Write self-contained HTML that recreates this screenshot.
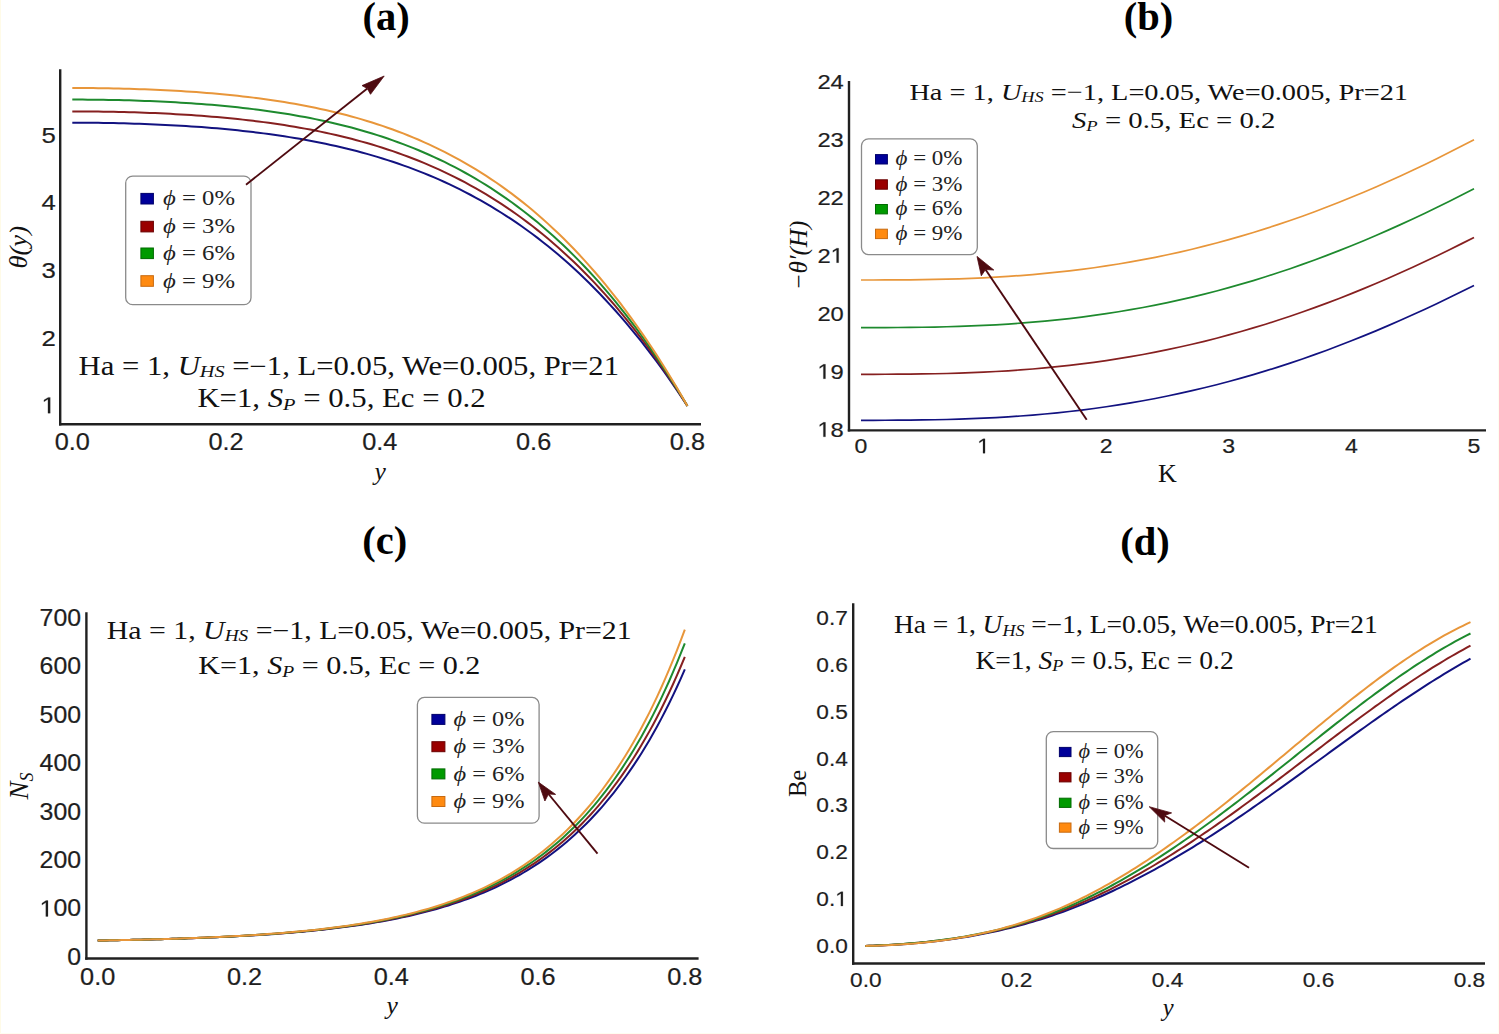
<!DOCTYPE html>
<html><head><meta charset="utf-8"><title>Figure</title>
<style>html,body{margin:0;padding:0;background:#fff;width:1499px;height:1034px;overflow:hidden}svg{display:block}</style>
</head><body>
<svg width="1499" height="1034" viewBox="0 0 1499 1034">
<rect x="0" y="0" width="1499" height="1034" fill="#fff"/>
<rect x="0" y="0" width="1" height="1034" fill="#fffbe8"/>
<rect x="0" y="1033" width="1499" height="1" fill="#fffdf0"/>
<rect x="1498" y="0" width="1" height="1034" fill="#fffdf0"/>
<text x="386.20" y="29.60" font-family="'Liberation Serif', serif" font-size="40.5" text-anchor="middle" font-style="normal" font-weight="bold" fill="#000" >(a)</text>
<text x="1148.40" y="30.40" font-family="'Liberation Serif', serif" font-size="40.5" text-anchor="middle" font-style="normal" font-weight="bold" fill="#000" >(b)</text>
<text x="384.70" y="553.80" font-family="'Liberation Serif', serif" font-size="40.5" text-anchor="middle" font-style="normal" font-weight="bold" fill="#000" >(c)</text>
<text x="1144.90" y="554.80" font-family="'Liberation Serif', serif" font-size="40.5" text-anchor="middle" font-style="normal" font-weight="bold" fill="#000" >(d)</text>
<line x1="60.20" y1="69.30" x2="60.20" y2="425.40" stroke="#202020" stroke-width="2.4"/>
<line x1="59.00" y1="424.20" x2="701.00" y2="424.20" stroke="#202020" stroke-width="2.4"/>
<path d="M515,0 L515,1237 L197,1010 L197,1180 L530,1409 L696,1409 L696,0 Z" transform="translate(41.47,413.20) scale(0.01258,-0.01123)" fill="#1e1e1e" stroke="#1e1e1e" stroke-width="0.2" vector-effect="non-scaling-stroke"/>
<text transform="translate(55.80,413.20) scale(1.12,1)" font-family="'Liberation Sans', sans-serif" font-size="23.0" text-anchor="end" font-style="normal" font-weight="normal" fill="#1e1e1e" stroke="#1e1e1e" stroke-width="0.2" style="font-kerning:none">&#x2007;</text>
<text transform="translate(55.80,345.60) scale(1.12,1)" font-family="'Liberation Sans', sans-serif" font-size="23.0" text-anchor="end" font-style="normal" font-weight="normal" fill="#1e1e1e" stroke="#1e1e1e" stroke-width="0.2" style="font-kerning:none">2</text>
<text transform="translate(55.80,278.00) scale(1.12,1)" font-family="'Liberation Sans', sans-serif" font-size="23.0" text-anchor="end" font-style="normal" font-weight="normal" fill="#1e1e1e" stroke="#1e1e1e" stroke-width="0.2" style="font-kerning:none">3</text>
<text transform="translate(55.80,210.40) scale(1.12,1)" font-family="'Liberation Sans', sans-serif" font-size="23.0" text-anchor="end" font-style="normal" font-weight="normal" fill="#1e1e1e" stroke="#1e1e1e" stroke-width="0.2" style="font-kerning:none">4</text>
<text transform="translate(55.80,142.80) scale(1.12,1)" font-family="'Liberation Sans', sans-serif" font-size="23.0" text-anchor="end" font-style="normal" font-weight="normal" fill="#1e1e1e" stroke="#1e1e1e" stroke-width="0.2" style="font-kerning:none">5</text>
<text transform="translate(72.30,449.80) scale(1.1,1)" font-family="'Liberation Sans', sans-serif" font-size="23.0" text-anchor="middle" font-style="normal" font-weight="normal" fill="#1e1e1e" stroke="#1e1e1e" stroke-width="0.2" style="font-kerning:none">0.0</text>
<text transform="translate(226.08,449.80) scale(1.1,1)" font-family="'Liberation Sans', sans-serif" font-size="23.0" text-anchor="middle" font-style="normal" font-weight="normal" fill="#1e1e1e" stroke="#1e1e1e" stroke-width="0.2" style="font-kerning:none">0.2</text>
<text transform="translate(379.86,449.80) scale(1.1,1)" font-family="'Liberation Sans', sans-serif" font-size="23.0" text-anchor="middle" font-style="normal" font-weight="normal" fill="#1e1e1e" stroke="#1e1e1e" stroke-width="0.2" style="font-kerning:none">0.4</text>
<text transform="translate(533.64,449.80) scale(1.1,1)" font-family="'Liberation Sans', sans-serif" font-size="23.0" text-anchor="middle" font-style="normal" font-weight="normal" fill="#1e1e1e" stroke="#1e1e1e" stroke-width="0.2" style="font-kerning:none">0.6</text>
<text transform="translate(687.42,449.80) scale(1.1,1)" font-family="'Liberation Sans', sans-serif" font-size="23.0" text-anchor="middle" font-style="normal" font-weight="normal" fill="#1e1e1e" stroke="#1e1e1e" stroke-width="0.2" style="font-kerning:none">0.8</text>
<text x="380.20" y="480.00" font-family="'Liberation Serif', serif" font-size="25.5" text-anchor="middle" font-style="italic" font-weight="normal" fill="#111" >y</text>
<text transform="translate(27.0,247.3) rotate(-90)" x="0" y="0" font-family="'Liberation Serif', serif" font-size="26" font-style="italic" text-anchor="middle" fill="#111" textLength="42.6" lengthAdjust="spacingAndGlyphs">&#x3B8;(y)</text>
<polyline points="72.30,122.69 77.47,122.69 82.64,122.71 87.81,122.75 92.98,122.79 98.15,122.85 103.31,122.92 108.48,123.01 113.65,123.11 118.82,123.22 123.99,123.35 129.16,123.49 134.33,123.64 139.50,123.81 144.67,124.00 149.84,124.20 155.01,124.42 160.17,124.65 165.34,124.90 170.51,125.16 175.68,125.44 180.85,125.74 186.02,126.06 191.19,126.39 196.36,126.75 201.53,127.12 206.70,127.52 211.87,127.94 217.03,128.37 222.20,128.83 227.37,129.31 232.54,129.82 237.71,130.35 242.88,130.90 248.05,131.48 253.22,132.08 258.39,132.72 263.56,133.38 268.72,134.07 273.89,134.78 279.06,135.53 284.23,136.31 289.40,137.13 294.57,137.97 299.74,138.85 304.91,139.77 310.08,140.72 315.25,141.70 320.42,142.73 325.58,143.80 330.75,144.90 335.92,146.05 341.09,147.24 346.26,148.48 351.43,149.76 356.60,151.08 361.77,152.46 366.94,153.88 372.11,155.35 377.28,156.88 382.44,158.46 387.61,160.09 392.78,161.77 397.95,163.52 403.12,165.32 408.29,167.18 413.46,169.11 418.63,171.09 423.80,173.14 428.97,175.26 434.14,177.45 439.30,179.70 444.47,182.02 449.64,184.42 454.81,186.89 459.98,189.44 465.15,192.06 470.32,194.76 475.49,197.55 480.66,200.41 485.83,203.36 491.00,206.40 496.16,209.52 501.33,212.74 506.50,216.05 511.67,219.45 516.84,222.94 522.01,226.54 527.18,230.23 532.35,234.02 537.52,237.92 542.69,241.93 547.85,246.04 553.02,250.26 558.19,254.60 563.36,259.04 568.53,263.61 573.70,268.29 578.87,273.09 584.04,278.02 589.21,283.07 594.38,288.25 599.55,293.56 604.71,299.00 609.88,304.58 615.05,310.29 620.22,316.14 625.39,322.13 630.56,328.27 635.73,334.55 640.90,340.98 646.07,347.57 651.24,354.31 656.41,361.20 661.57,368.25 666.74,375.47 671.91,382.85 677.08,390.40 682.25,398.11 687.42,406.00" fill="none" stroke="#121280" stroke-width="2.0" stroke-linejoin="round" stroke-linecap="butt"/>
<polyline points="72.30,111.40 77.47,111.41 82.64,111.43 87.81,111.46 92.98,111.50 98.15,111.56 103.31,111.63 108.48,111.72 113.65,111.82 118.82,111.93 123.99,112.05 129.16,112.19 134.33,112.35 139.50,112.52 144.67,112.70 149.84,112.90 155.01,113.12 160.17,113.35 165.34,113.60 170.51,113.86 175.68,114.14 180.85,114.44 186.02,114.76 191.19,115.09 196.36,115.45 201.53,115.83 206.70,116.22 211.87,116.64 217.03,117.08 222.20,117.54 227.37,118.02 232.54,118.53 237.71,119.07 242.88,119.62 248.05,120.21 253.22,120.82 258.39,121.46 263.56,122.13 268.72,122.83 273.89,123.55 279.06,124.31 284.23,125.10 289.40,125.93 294.57,126.79 299.74,127.68 304.91,128.62 310.08,129.58 315.25,130.59 320.42,131.64 325.58,132.73 330.75,133.86 335.92,135.03 341.09,136.25 346.26,137.51 351.43,138.82 356.60,140.18 361.77,141.59 366.94,143.05 372.11,144.57 377.28,146.13 382.44,147.75 387.61,149.43 392.78,151.17 397.95,152.96 403.12,154.82 408.29,156.74 413.46,158.73 418.63,160.78 423.80,162.89 428.97,165.08 434.14,167.34 439.30,169.67 444.47,172.07 449.64,174.55 454.81,177.11 459.98,179.75 465.15,182.47 470.32,185.27 475.49,188.16 480.66,191.13 485.83,194.19 491.00,197.35 496.16,200.59 501.33,203.93 506.50,207.37 511.67,210.91 516.84,214.55 522.01,218.29 527.18,222.13 532.35,226.08 537.52,230.14 542.69,234.32 547.85,238.60 553.02,243.01 558.19,247.53 563.36,252.17 568.53,256.93 573.70,261.82 578.87,266.83 584.04,271.98 589.21,277.26 594.38,282.67 599.55,288.22 604.71,293.91 609.88,299.74 615.05,305.71 620.22,311.83 625.39,318.11 630.56,324.53 635.73,331.11 640.90,337.84 646.07,344.74 651.24,351.80 656.41,359.02 661.57,366.42 666.74,373.98 671.91,381.72 677.08,389.63 682.25,397.72 687.42,406.00" fill="none" stroke="#862020" stroke-width="2.0" stroke-linejoin="round" stroke-linecap="butt"/>
<polyline points="72.30,99.57 77.47,99.58 82.64,99.60 87.81,99.63 92.98,99.67 98.15,99.73 103.31,99.80 108.48,99.89 113.65,99.99 118.82,100.10 123.99,100.23 129.16,100.37 134.33,100.53 139.50,100.70 144.67,100.88 149.84,101.08 155.01,101.30 160.17,101.53 165.34,101.78 170.51,102.05 175.68,102.34 180.85,102.64 186.02,102.96 191.19,103.30 196.36,103.66 201.53,104.04 206.70,104.45 211.87,104.87 217.03,105.32 222.20,105.79 227.37,106.28 232.54,106.80 237.71,107.34 242.88,107.91 248.05,108.50 253.22,109.13 258.39,109.78 263.56,110.46 268.72,111.17 273.89,111.92 279.06,112.69 284.23,113.50 289.40,114.35 294.57,115.23 299.74,116.15 304.91,117.10 310.08,118.09 315.25,119.13 320.42,120.20 325.58,121.32 330.75,122.48 335.92,123.69 341.09,124.94 346.26,126.24 351.43,127.59 356.60,128.99 361.77,130.45 366.94,131.95 372.11,133.51 377.28,135.13 382.44,136.80 387.61,138.54 392.78,140.33 397.95,142.19 403.12,144.11 408.29,146.09 413.46,148.14 418.63,150.27 423.80,152.46 428.97,154.72 434.14,157.06 439.30,159.48 444.47,161.97 449.64,164.54 454.81,167.19 459.98,169.93 465.15,172.75 470.32,175.66 475.49,178.66 480.66,181.75 485.83,184.93 491.00,188.21 496.16,191.58 501.33,195.05 506.50,198.63 511.67,202.31 516.84,206.09 522.01,209.99 527.18,213.99 532.35,218.10 537.52,222.33 542.69,226.68 547.85,231.14 553.02,235.73 558.19,240.44 563.36,245.28 568.53,250.25 573.70,255.35 578.87,260.58 584.04,265.94 589.21,271.45 594.38,277.10 599.55,282.89 604.71,288.83 609.88,294.92 615.05,301.16 620.22,307.55 625.39,314.10 630.56,320.81 635.73,327.69 640.90,334.73 646.07,341.93 651.24,349.31 656.41,356.87 661.57,364.60 666.74,372.51 671.91,380.60 677.08,388.88 682.25,397.34 687.42,406.00" fill="none" stroke="#1e8a2e" stroke-width="2.0" stroke-linejoin="round" stroke-linecap="butt"/>
<polyline points="72.30,88.01 77.47,88.02 82.64,88.04 87.81,88.07 92.98,88.11 98.15,88.17 103.31,88.24 108.48,88.33 113.65,88.43 118.82,88.54 123.99,88.67 129.16,88.81 134.33,88.96 139.50,89.13 144.67,89.32 149.84,89.52 155.01,89.74 160.17,89.97 165.34,90.22 170.51,90.49 175.68,90.78 180.85,91.08 186.02,91.40 191.19,91.75 196.36,92.11 201.53,92.49 206.70,92.90 211.87,93.32 217.03,93.77 222.20,94.25 227.37,94.74 232.54,95.27 237.71,95.82 242.88,96.39 248.05,96.99 253.22,97.63 258.39,98.29 263.56,98.98 268.72,99.70 273.89,100.46 279.06,101.25 284.23,102.07 289.40,102.93 294.57,103.83 299.74,104.76 304.91,105.74 310.08,106.75 315.25,107.80 320.42,108.90 325.58,110.05 330.75,111.23 335.92,112.47 341.09,113.75 346.26,115.08 351.43,116.47 356.60,117.90 361.77,119.39 366.94,120.94 372.11,122.54 377.28,124.20 382.44,125.92 387.61,127.71 392.78,129.55 397.95,131.46 403.12,133.44 408.29,135.49 413.46,137.60 418.63,139.79 423.80,142.05 428.97,144.39 434.14,146.81 439.30,149.30 444.47,151.88 449.64,154.54 454.81,157.28 459.98,160.11 465.15,163.03 470.32,166.04 475.49,169.15 480.66,172.35 485.83,175.64 491.00,179.04 496.16,182.54 501.33,186.14 506.50,189.85 511.67,193.67 516.84,197.60 522.01,201.64 527.18,205.80 532.35,210.07 537.52,214.47 542.69,218.99 547.85,223.63 553.02,228.40 558.19,233.30 563.36,238.34 568.53,243.50 573.70,248.81 578.87,254.26 584.04,259.85 589.21,265.58 594.38,271.47 599.55,277.50 604.71,283.69 609.88,290.04 615.05,296.54 620.22,303.21 625.39,310.04 630.56,317.05 635.73,324.22 640.90,331.56 646.07,339.09 651.24,346.79 656.41,354.67 661.57,362.75 666.74,371.01 671.91,379.46 677.08,388.11 682.25,396.95 687.42,406.00" fill="none" stroke="#e8963a" stroke-width="2.0" stroke-linejoin="round" stroke-linecap="butt"/>
<rect x="125.70" y="176.10" width="125.30" height="128.60" rx="7" ry="7" fill="#fff" stroke="#8a8a8a" stroke-width="1.3"/>
<rect x="140.90" y="193.40" width="12.50" height="10.60" fill="#00009a" stroke="#00006a" stroke-width="1"/>
<text x="163.00" y="205.35" font-family="'Liberation Serif', serif" font-size="21.8" fill="#222" textLength="72" lengthAdjust="spacingAndGlyphs"><tspan font-style="italic">&#x3D5;</tspan> = 0%</text>
<rect x="140.90" y="221.30" width="12.50" height="10.60" fill="#9a0000" stroke="#6a0000" stroke-width="1"/>
<text x="163.00" y="233.25" font-family="'Liberation Serif', serif" font-size="21.8" fill="#222" textLength="72" lengthAdjust="spacingAndGlyphs"><tspan font-style="italic">&#x3D5;</tspan> = 3%</text>
<rect x="140.90" y="248.00" width="12.50" height="10.60" fill="#009a00" stroke="#006a00" stroke-width="1"/>
<text x="163.00" y="259.95" font-family="'Liberation Serif', serif" font-size="21.8" fill="#222" textLength="72" lengthAdjust="spacingAndGlyphs"><tspan font-style="italic">&#x3D5;</tspan> = 6%</text>
<rect x="140.90" y="275.70" width="12.50" height="10.60" fill="#ff8a10" stroke="#c86a10" stroke-width="1"/>
<text x="163.00" y="287.65" font-family="'Liberation Serif', serif" font-size="21.8" fill="#222" textLength="72" lengthAdjust="spacingAndGlyphs"><tspan font-style="italic">&#x3D5;</tspan> = 9%</text>
<line x1="246.00" y1="184.70" x2="367.30" y2="88.60" stroke="#4e0a10" stroke-width="1.9"/>
<polygon points="384.20,76.00 362.00,85.60 367.30,88.60 370.50,94.30" fill="#4e0a10" stroke="#4e0a10" stroke-width="0.8" stroke-linejoin="round"/>
<text x="78.60" y="375.00" font-family="'Liberation Serif', serif" font-size="26.5" fill="#111" textLength="540.40" lengthAdjust="spacingAndGlyphs">Ha = 1, <tspan font-style="italic">U</tspan><tspan font-style="italic" font-size="17.5" dy="2.4">HS</tspan><tspan dy="-2.4"> =&#x2212;1, L=0.05, We=0.005, Pr=21</tspan></text>
<text x="197.40" y="407.20" font-family="'Liberation Serif', serif" font-size="26.5" fill="#111" textLength="288.30" lengthAdjust="spacingAndGlyphs">K=1, <tspan font-style="italic">S</tspan><tspan font-style="italic" font-size="17.5" dy="2.4">P</tspan><tspan dy="-2.4"> = 0.5, Ec = 0.2</tspan></text>
<line x1="849.00" y1="80.90" x2="849.00" y2="431.60" stroke="#202020" stroke-width="2.4"/>
<line x1="847.80" y1="430.40" x2="1486.00" y2="430.40" stroke="#202020" stroke-width="2.4"/>
<path d="M515,0 L515,1237 L197,1010 L197,1180 L530,1409 L696,1409 L696,0 Z" transform="translate(817.41,436.80) scale(0.01159,-0.01025)" fill="#1e1e1e" stroke="#1e1e1e" stroke-width="0.2" vector-effect="non-scaling-stroke"/>
<text transform="translate(843.80,436.80) scale(1.13,1)" font-family="'Liberation Sans', sans-serif" font-size="21.0" text-anchor="end" font-style="normal" font-weight="normal" fill="#1e1e1e" stroke="#1e1e1e" stroke-width="0.2" style="font-kerning:none">&#x2007;8</text>
<path d="M515,0 L515,1237 L197,1010 L197,1180 L530,1409 L696,1409 L696,0 Z" transform="translate(817.41,378.75) scale(0.01159,-0.01025)" fill="#1e1e1e" stroke="#1e1e1e" stroke-width="0.2" vector-effect="non-scaling-stroke"/>
<text transform="translate(843.80,378.75) scale(1.13,1)" font-family="'Liberation Sans', sans-serif" font-size="21.0" text-anchor="end" font-style="normal" font-weight="normal" fill="#1e1e1e" stroke="#1e1e1e" stroke-width="0.2" style="font-kerning:none">&#x2007;9</text>
<text transform="translate(843.80,320.70) scale(1.13,1)" font-family="'Liberation Sans', sans-serif" font-size="21.0" text-anchor="end" font-style="normal" font-weight="normal" fill="#1e1e1e" stroke="#1e1e1e" stroke-width="0.2" style="font-kerning:none">20</text>
<path d="M515,0 L515,1237 L197,1010 L197,1180 L530,1409 L696,1409 L696,0 Z" transform="translate(830.60,262.65) scale(0.01159,-0.01025)" fill="#1e1e1e" stroke="#1e1e1e" stroke-width="0.2" vector-effect="non-scaling-stroke"/>
<text transform="translate(843.80,262.65) scale(1.13,1)" font-family="'Liberation Sans', sans-serif" font-size="21.0" text-anchor="end" font-style="normal" font-weight="normal" fill="#1e1e1e" stroke="#1e1e1e" stroke-width="0.2" style="font-kerning:none">2&#x2007;</text>
<text transform="translate(843.80,204.60) scale(1.13,1)" font-family="'Liberation Sans', sans-serif" font-size="21.0" text-anchor="end" font-style="normal" font-weight="normal" fill="#1e1e1e" stroke="#1e1e1e" stroke-width="0.2" style="font-kerning:none">22</text>
<text transform="translate(843.80,146.55) scale(1.13,1)" font-family="'Liberation Sans', sans-serif" font-size="21.0" text-anchor="end" font-style="normal" font-weight="normal" fill="#1e1e1e" stroke="#1e1e1e" stroke-width="0.2" style="font-kerning:none">23</text>
<text transform="translate(843.80,88.50) scale(1.13,1)" font-family="'Liberation Sans', sans-serif" font-size="21.0" text-anchor="end" font-style="normal" font-weight="normal" fill="#1e1e1e" stroke="#1e1e1e" stroke-width="0.2" style="font-kerning:none">24</text>
<text transform="translate(861.00,453.30) scale(1.1,1)" font-family="'Liberation Sans', sans-serif" font-size="21.0" text-anchor="middle" font-style="normal" font-weight="normal" fill="#1e1e1e" stroke="#1e1e1e" stroke-width="0.2" style="font-kerning:none">0</text>
<path d="M515,0 L515,1237 L197,1010 L197,1180 L530,1409 L696,1409 L696,0 Z" transform="translate(977.18,453.30) scale(0.01128,-0.01025)" fill="#1e1e1e" stroke="#1e1e1e" stroke-width="0.2" vector-effect="non-scaling-stroke"/>
<text transform="translate(983.60,453.30) scale(1.1,1)" font-family="'Liberation Sans', sans-serif" font-size="21.0" text-anchor="middle" font-style="normal" font-weight="normal" fill="#1e1e1e" stroke="#1e1e1e" stroke-width="0.2" style="font-kerning:none">&#x2007;</text>
<text transform="translate(1106.20,453.30) scale(1.1,1)" font-family="'Liberation Sans', sans-serif" font-size="21.0" text-anchor="middle" font-style="normal" font-weight="normal" fill="#1e1e1e" stroke="#1e1e1e" stroke-width="0.2" style="font-kerning:none">2</text>
<text transform="translate(1228.80,453.30) scale(1.1,1)" font-family="'Liberation Sans', sans-serif" font-size="21.0" text-anchor="middle" font-style="normal" font-weight="normal" fill="#1e1e1e" stroke="#1e1e1e" stroke-width="0.2" style="font-kerning:none">3</text>
<text transform="translate(1351.40,453.30) scale(1.1,1)" font-family="'Liberation Sans', sans-serif" font-size="21.0" text-anchor="middle" font-style="normal" font-weight="normal" fill="#1e1e1e" stroke="#1e1e1e" stroke-width="0.2" style="font-kerning:none">4</text>
<text transform="translate(1474.00,453.30) scale(1.1,1)" font-family="'Liberation Sans', sans-serif" font-size="21.0" text-anchor="middle" font-style="normal" font-weight="normal" fill="#1e1e1e" stroke="#1e1e1e" stroke-width="0.2" style="font-kerning:none">5</text>
<text x="1167.50" y="482.00" font-family="'Liberation Serif', serif" font-size="26" text-anchor="middle" font-style="normal" font-weight="normal" fill="#111" >K</text>
<text transform="translate(806.5,255.5) rotate(-90)" x="0" y="0" font-family="'Liberation Serif', serif" font-size="25" font-style="italic" text-anchor="middle" fill="#111" textLength="69.7" lengthAdjust="spacingAndGlyphs">&#x2212;&#x3B8;&#x2032;(H)</text>
<polyline points="861.00,420.30 873.26,420.30 885.52,420.27 897.78,420.22 910.04,420.12 922.30,419.97 934.56,419.76 946.82,419.49 959.08,419.14 971.34,418.70 983.60,418.18 995.86,417.56 1008.12,416.84 1020.38,416.01 1032.64,415.06 1044.90,414.00 1057.16,412.82 1069.42,411.51 1081.68,410.06 1093.94,408.49 1106.20,406.77 1118.46,404.92 1130.72,402.92 1142.98,400.77 1155.24,398.48 1167.50,396.04 1179.76,393.44 1192.02,390.69 1204.28,387.79 1216.54,384.73 1228.80,381.51 1241.06,378.14 1253.32,374.61 1265.58,370.93 1277.84,367.09 1290.10,363.09 1302.36,358.94 1314.62,354.63 1326.88,350.18 1339.14,345.57 1351.40,340.81 1363.66,335.90 1375.92,330.84 1388.18,325.64 1400.44,320.30 1412.70,314.82 1424.96,309.20 1437.22,303.45 1449.48,297.56 1461.74,291.54 1474.00,285.40" fill="none" stroke="#121280" stroke-width="1.7" stroke-linejoin="round" stroke-linecap="butt"/>
<polyline points="861.00,374.30 873.26,374.30 885.52,374.27 897.78,374.22 910.04,374.12 922.30,373.97 934.56,373.76 946.82,373.48 959.08,373.12 971.34,372.68 983.60,372.15 995.86,371.52 1008.12,370.78 1020.38,369.94 1032.64,368.98 1044.90,367.91 1057.16,366.71 1069.42,365.38 1081.68,363.91 1093.94,362.31 1106.20,360.57 1118.46,358.69 1130.72,356.66 1142.98,354.48 1155.24,352.16 1167.50,349.68 1179.76,347.04 1192.02,344.25 1204.28,341.30 1216.54,338.20 1228.80,334.94 1241.06,331.51 1253.32,327.93 1265.58,324.20 1277.84,320.30 1290.10,316.24 1302.36,312.03 1314.62,307.66 1326.88,303.14 1339.14,298.46 1351.40,293.63 1363.66,288.65 1375.92,283.52 1388.18,278.24 1400.44,272.82 1412.70,267.26 1424.96,261.55 1437.22,255.71 1449.48,249.74 1461.74,243.63 1474.00,237.40" fill="none" stroke="#862020" stroke-width="1.7" stroke-linejoin="round" stroke-linecap="butt"/>
<polyline points="861.00,327.60 873.26,327.60 885.52,327.57 897.78,327.51 910.04,327.42 922.30,327.26 934.56,327.05 946.82,326.76 959.08,326.40 971.34,325.96 983.60,325.42 995.86,324.78 1008.12,324.03 1020.38,323.18 1032.64,322.21 1044.90,321.11 1057.16,319.89 1069.42,318.55 1081.68,317.06 1093.94,315.44 1106.20,313.67 1118.46,311.76 1130.72,309.70 1142.98,307.49 1155.24,305.13 1167.50,302.62 1179.76,299.94 1192.02,297.11 1204.28,294.12 1216.54,290.97 1228.80,287.66 1241.06,284.19 1253.32,280.56 1265.58,276.76 1277.84,272.81 1290.10,268.69 1302.36,264.42 1314.62,259.99 1326.88,255.40 1339.14,250.65 1351.40,245.75 1363.66,240.70 1375.92,235.49 1388.18,230.14 1400.44,224.64 1412.70,218.99 1424.96,213.21 1437.22,207.28 1449.48,201.22 1461.74,195.03 1474.00,188.70" fill="none" stroke="#1e8a2e" stroke-width="1.7" stroke-linejoin="round" stroke-linecap="butt"/>
<polyline points="861.00,280.00 873.26,280.00 885.52,279.97 897.78,279.91 910.04,279.81 922.30,279.66 934.56,279.44 946.82,279.16 959.08,278.79 971.34,278.34 983.60,277.79 995.86,277.15 1008.12,276.40 1020.38,275.53 1032.64,274.55 1044.90,273.45 1057.16,272.22 1069.42,270.85 1081.68,269.35 1093.94,267.72 1106.20,265.93 1118.46,264.00 1130.72,261.92 1142.98,259.69 1155.24,257.31 1167.50,254.76 1179.76,252.06 1192.02,249.21 1204.28,246.18 1216.54,243.00 1228.80,239.66 1241.06,236.15 1253.32,232.48 1265.58,228.65 1277.84,224.66 1290.10,220.50 1302.36,216.18 1314.62,211.70 1326.88,207.07 1339.14,202.27 1351.40,197.32 1363.66,192.22 1375.92,186.96 1388.18,181.55 1400.44,176.00 1412.70,170.30 1424.96,164.45 1437.22,158.47 1449.48,152.35 1461.74,146.09 1474.00,139.70" fill="none" stroke="#e8963a" stroke-width="1.7" stroke-linejoin="round" stroke-linecap="butt"/>
<rect x="861.50" y="138.80" width="115.80" height="115.80" rx="7" ry="7" fill="#fff" stroke="#8a8a8a" stroke-width="1.3"/>
<rect x="875.50" y="154.60" width="11.90" height="9.40" fill="#00009a" stroke="#00006a" stroke-width="1"/>
<text x="895.50" y="165.40" font-family="'Liberation Serif', serif" font-size="20" fill="#222" textLength="67" lengthAdjust="spacingAndGlyphs"><tspan font-style="italic">&#x3D5;</tspan> = 0%</text>
<rect x="875.50" y="179.80" width="11.90" height="9.40" fill="#9a0000" stroke="#6a0000" stroke-width="1"/>
<text x="895.50" y="190.60" font-family="'Liberation Serif', serif" font-size="20" fill="#222" textLength="67" lengthAdjust="spacingAndGlyphs"><tspan font-style="italic">&#x3D5;</tspan> = 3%</text>
<rect x="875.50" y="204.50" width="11.90" height="9.40" fill="#009a00" stroke="#006a00" stroke-width="1"/>
<text x="895.50" y="215.30" font-family="'Liberation Serif', serif" font-size="20" fill="#222" textLength="67" lengthAdjust="spacingAndGlyphs"><tspan font-style="italic">&#x3D5;</tspan> = 6%</text>
<rect x="875.50" y="229.20" width="11.90" height="9.40" fill="#ff8a10" stroke="#c86a10" stroke-width="1"/>
<text x="895.50" y="240.00" font-family="'Liberation Serif', serif" font-size="20" fill="#222" textLength="67" lengthAdjust="spacingAndGlyphs"><tspan font-style="italic">&#x3D5;</tspan> = 9%</text>
<line x1="1086.70" y1="419.80" x2="985.50" y2="269.50" stroke="#4e0a10" stroke-width="1.9"/>
<polygon points="977.00,256.40 993.80,270.00 985.50,269.50 981.30,275.80" fill="#4e0a10" stroke="#4e0a10" stroke-width="0.8" stroke-linejoin="round"/>
<text x="909.4" y="100" font-family="'Liberation Serif', serif" font-size="24" fill="#111" textLength="498.6" lengthAdjust="spacingAndGlyphs">Ha = 1, <tspan font-style="italic">U</tspan><tspan font-style="italic" font-size="15.5" dy="2.2">HS</tspan><tspan dy="-2.2"> =&#x2212;1, L=0.05, We=0.005, Pr=21</tspan></text>
<text x="1072" y="128.3" font-family="'Liberation Serif', serif" font-size="24" fill="#111" textLength="203.4" lengthAdjust="spacingAndGlyphs"><tspan font-style="italic">S</tspan><tspan font-style="italic" font-size="15.5" dy="2.2">P</tspan><tspan dy="-2.2"> = 0.5, Ec = 0.2</tspan></text>
<line x1="86.40" y1="612.20" x2="86.40" y2="959.70" stroke="#202020" stroke-width="2.4"/>
<line x1="85.20" y1="958.50" x2="698.60" y2="958.50" stroke="#202020" stroke-width="2.4"/>
<text transform="translate(81.00,964.90) scale(1.08,1)" font-family="'Liberation Sans', sans-serif" font-size="23.0" text-anchor="end" font-style="normal" font-weight="normal" fill="#1e1e1e" stroke="#1e1e1e" stroke-width="0.2" style="font-kerning:none">0</text>
<path d="M515,0 L515,1237 L197,1010 L197,1180 L530,1409 L696,1409 L696,0 Z" transform="translate(39.56,916.44) scale(0.01213,-0.01123)" fill="#1e1e1e" stroke="#1e1e1e" stroke-width="0.2" vector-effect="non-scaling-stroke"/>
<text transform="translate(81.00,916.44) scale(1.08,1)" font-family="'Liberation Sans', sans-serif" font-size="23.0" text-anchor="end" font-style="normal" font-weight="normal" fill="#1e1e1e" stroke="#1e1e1e" stroke-width="0.2" style="font-kerning:none">&#x2007;00</text>
<text transform="translate(81.00,867.98) scale(1.08,1)" font-family="'Liberation Sans', sans-serif" font-size="23.0" text-anchor="end" font-style="normal" font-weight="normal" fill="#1e1e1e" stroke="#1e1e1e" stroke-width="0.2" style="font-kerning:none">200</text>
<text transform="translate(81.00,819.52) scale(1.08,1)" font-family="'Liberation Sans', sans-serif" font-size="23.0" text-anchor="end" font-style="normal" font-weight="normal" fill="#1e1e1e" stroke="#1e1e1e" stroke-width="0.2" style="font-kerning:none">300</text>
<text transform="translate(81.00,771.06) scale(1.08,1)" font-family="'Liberation Sans', sans-serif" font-size="23.0" text-anchor="end" font-style="normal" font-weight="normal" fill="#1e1e1e" stroke="#1e1e1e" stroke-width="0.2" style="font-kerning:none">400</text>
<text transform="translate(81.00,722.60) scale(1.08,1)" font-family="'Liberation Sans', sans-serif" font-size="23.0" text-anchor="end" font-style="normal" font-weight="normal" fill="#1e1e1e" stroke="#1e1e1e" stroke-width="0.2" style="font-kerning:none">500</text>
<text transform="translate(81.00,674.14) scale(1.08,1)" font-family="'Liberation Sans', sans-serif" font-size="23.0" text-anchor="end" font-style="normal" font-weight="normal" fill="#1e1e1e" stroke="#1e1e1e" stroke-width="0.2" style="font-kerning:none">600</text>
<text transform="translate(81.00,625.68) scale(1.08,1)" font-family="'Liberation Sans', sans-serif" font-size="23.0" text-anchor="end" font-style="normal" font-weight="normal" fill="#1e1e1e" stroke="#1e1e1e" stroke-width="0.2" style="font-kerning:none">700</text>
<text transform="translate(97.70,984.60) scale(1.1,1)" font-family="'Liberation Sans', sans-serif" font-size="23.0" text-anchor="middle" font-style="normal" font-weight="normal" fill="#1e1e1e" stroke="#1e1e1e" stroke-width="0.2" style="font-kerning:none">0.0</text>
<text transform="translate(244.48,984.60) scale(1.1,1)" font-family="'Liberation Sans', sans-serif" font-size="23.0" text-anchor="middle" font-style="normal" font-weight="normal" fill="#1e1e1e" stroke="#1e1e1e" stroke-width="0.2" style="font-kerning:none">0.2</text>
<text transform="translate(391.26,984.60) scale(1.1,1)" font-family="'Liberation Sans', sans-serif" font-size="23.0" text-anchor="middle" font-style="normal" font-weight="normal" fill="#1e1e1e" stroke="#1e1e1e" stroke-width="0.2" style="font-kerning:none">0.4</text>
<text transform="translate(538.04,984.60) scale(1.1,1)" font-family="'Liberation Sans', sans-serif" font-size="23.0" text-anchor="middle" font-style="normal" font-weight="normal" fill="#1e1e1e" stroke="#1e1e1e" stroke-width="0.2" style="font-kerning:none">0.6</text>
<text transform="translate(684.82,984.60) scale(1.1,1)" font-family="'Liberation Sans', sans-serif" font-size="23.0" text-anchor="middle" font-style="normal" font-weight="normal" fill="#1e1e1e" stroke="#1e1e1e" stroke-width="0.2" style="font-kerning:none">0.8</text>
<text x="392.20" y="1014.00" font-family="'Liberation Serif', serif" font-size="25.5" text-anchor="middle" font-style="italic" font-weight="normal" fill="#111" >y</text>
<text transform="translate(27.5,786.0) rotate(-90)" x="0" y="0" font-family="'Liberation Serif', serif" font-size="27" font-style="italic" text-anchor="middle" fill="#111">N<tspan font-size="18" dy="5">S</tspan></text>
<polyline points="97.70,940.52 101.64,940.45 105.58,940.39 109.52,940.32 113.46,940.25 117.40,940.17 121.34,940.10 125.28,940.02 129.22,939.93 133.16,939.85 137.10,939.76 141.04,939.67 144.98,939.58 148.93,939.48 152.87,939.38 156.81,939.28 160.75,939.17 164.69,939.06 168.63,938.95 172.57,938.83 176.51,938.71 180.45,938.58 184.39,938.45 188.33,938.32 192.27,938.18 196.21,938.04 200.15,937.89 204.09,937.73 208.03,937.58 211.97,937.41 215.91,937.24 219.85,937.07 223.79,936.88 227.73,936.70 231.67,936.50 235.61,936.30 239.55,936.09 243.49,935.88 247.44,935.66 251.38,935.43 255.32,935.19 259.26,934.95 263.20,934.69 267.14,934.43 271.08,934.16 275.02,933.88 278.96,933.59 282.90,933.29 286.84,932.98 290.78,932.66 294.72,932.33 298.66,931.99 302.60,931.64 306.54,931.27 310.48,930.89 314.42,930.50 318.36,930.10 322.30,929.68 326.24,929.25 330.18,928.80 334.12,928.34 338.06,927.86 342.00,927.37 345.95,926.86 349.89,926.33 353.83,925.79 357.77,925.23 361.71,924.64 365.65,924.04 369.59,923.42 373.53,922.77 377.47,922.11 381.41,921.42 385.35,920.71 389.29,919.97 393.23,919.21 397.17,918.43 401.11,917.61 405.05,916.77 408.99,915.90 412.93,915.01 416.87,914.08 420.81,913.12 424.75,912.12 428.69,911.10 432.63,910.04 436.57,908.94 440.52,907.81 444.46,906.63 448.40,905.42 452.34,904.17 456.28,902.87 460.22,901.53 464.16,900.15 468.10,898.72 472.04,897.24 475.98,895.71 479.92,894.12 483.86,892.49 487.80,890.80 491.74,889.05 495.68,887.24 499.62,885.37 503.56,883.44 507.50,881.44 511.44,879.38 515.38,877.24 519.32,875.03 523.26,872.75 527.20,870.39 531.14,867.95 535.08,865.43 539.03,862.82 542.97,860.12 546.91,857.34 550.85,854.45 554.79,851.47 558.73,848.39 562.67,845.21 566.61,841.92 570.55,838.51 574.49,834.99 578.43,831.36 582.37,827.59 586.31,823.70 590.25,819.68 594.19,815.53 598.13,811.23 602.07,806.79 606.01,802.19 609.95,797.44 613.89,792.53 617.83,787.46 621.77,782.21 625.71,776.78 629.65,771.17 633.59,765.37 637.54,759.37 641.48,753.18 645.42,746.77 649.36,740.14 653.30,733.29 657.24,726.20 661.18,718.88 665.12,711.31 669.06,703.48 673.00,695.39 676.94,687.02 680.88,678.38 684.82,669.43" fill="none" stroke="#121280" stroke-width="2.0" stroke-linejoin="round" stroke-linecap="butt"/>
<polyline points="97.70,940.52 101.64,940.45 105.58,940.38 109.52,940.31 113.46,940.24 117.40,940.17 121.34,940.09 125.28,940.01 129.22,939.93 133.16,939.84 137.10,939.75 141.04,939.66 144.98,939.57 148.93,939.47 152.87,939.37 156.81,939.27 160.75,939.16 164.69,939.05 168.63,938.93 172.57,938.81 176.51,938.69 180.45,938.56 184.39,938.43 188.33,938.29 192.27,938.15 196.21,938.00 200.15,937.85 204.09,937.70 208.03,937.53 211.97,937.37 215.91,937.19 219.85,937.01 223.79,936.83 227.73,936.64 231.67,936.44 235.61,936.24 239.55,936.02 243.49,935.81 247.44,935.58 251.38,935.35 255.32,935.10 259.26,934.85 263.20,934.59 267.14,934.33 271.08,934.05 275.02,933.76 278.96,933.47 282.90,933.16 286.84,932.84 290.78,932.52 294.72,932.18 298.66,931.83 302.60,931.46 306.54,931.09 310.48,930.70 314.42,930.30 318.36,929.89 322.30,929.46 326.24,929.02 330.18,928.56 334.12,928.08 338.06,927.59 342.00,927.09 345.95,926.56 349.89,926.02 353.83,925.46 357.77,924.88 361.71,924.28 365.65,923.66 369.59,923.02 373.53,922.35 377.47,921.67 381.41,920.96 385.35,920.22 389.29,919.46 393.23,918.68 397.17,917.87 401.11,917.03 405.05,916.16 408.99,915.26 412.93,914.33 416.87,913.37 420.81,912.38 424.75,911.35 428.69,910.29 432.63,909.19 436.57,908.06 440.52,906.88 444.46,905.67 448.40,904.41 452.34,903.11 456.28,901.77 460.22,900.38 464.16,898.94 468.10,897.45 472.04,895.92 475.98,894.33 479.92,892.68 483.86,890.98 487.80,889.22 491.74,887.41 495.68,885.53 499.62,883.58 503.56,881.57 507.50,879.49 511.44,877.34 515.38,875.11 519.32,872.81 523.26,870.43 527.20,867.97 531.14,865.43 535.08,862.80 539.03,860.07 542.97,857.26 546.91,854.35 550.85,851.34 554.79,848.22 558.73,845.00 562.67,841.67 566.61,838.23 570.55,834.67 574.49,830.98 578.43,827.18 582.37,823.24 586.31,819.16 590.25,814.95 594.19,810.59 598.13,806.09 602.07,801.43 606.01,796.61 609.95,791.62 613.89,786.47 617.83,781.14 621.77,775.62 625.71,769.92 629.65,764.02 633.59,757.93 637.54,751.62 641.48,745.10 645.42,738.35 649.36,731.38 653.30,724.16 657.24,716.70 661.18,708.99 665.12,701.01 669.06,692.76 673.00,684.22 676.94,675.40 680.88,666.27 684.82,656.83" fill="none" stroke="#862020" stroke-width="2.0" stroke-linejoin="round" stroke-linecap="butt"/>
<polyline points="97.70,940.52 101.64,940.45 105.58,940.38 109.52,940.31 113.46,940.24 117.40,940.16 121.34,940.09 125.28,940.01 129.22,939.92 133.16,939.84 137.10,939.75 141.04,939.65 144.98,939.56 148.93,939.46 152.87,939.36 156.81,939.25 160.75,939.14 164.69,939.03 168.63,938.91 172.57,938.79 176.51,938.66 180.45,938.53 184.39,938.40 188.33,938.26 192.27,938.12 196.21,937.97 200.15,937.81 204.09,937.66 208.03,937.49 211.97,937.32 215.91,937.14 219.85,936.96 223.79,936.77 227.73,936.58 231.67,936.38 235.61,936.17 239.55,935.95 243.49,935.73 247.44,935.50 251.38,935.26 255.32,935.01 259.26,934.76 263.20,934.49 267.14,934.22 271.08,933.93 275.02,933.64 278.96,933.34 282.90,933.02 286.84,932.70 290.78,932.36 294.72,932.02 298.66,931.66 302.60,931.29 306.54,930.90 310.48,930.50 314.42,930.09 318.36,929.67 322.30,929.23 326.24,928.77 330.18,928.30 334.12,927.81 338.06,927.31 342.00,926.79 345.95,926.25 349.89,925.69 353.83,925.11 357.77,924.51 361.71,923.90 365.65,923.26 369.59,922.59 373.53,921.91 377.47,921.20 381.41,920.47 385.35,919.71 389.29,918.93 393.23,918.12 397.17,917.28 401.11,916.41 405.05,915.51 408.99,914.59 412.93,913.63 416.87,912.63 420.81,911.60 424.75,910.54 428.69,909.44 432.63,908.30 436.57,907.12 440.52,905.91 444.46,904.65 448.40,903.34 452.34,901.99 456.28,900.60 460.22,899.16 464.16,897.66 468.10,896.12 472.04,894.52 475.98,892.87 479.92,891.16 483.86,889.39 487.80,887.56 491.74,885.67 495.68,883.71 499.62,881.68 503.56,879.59 507.50,877.42 511.44,875.17 515.38,872.85 519.32,870.45 523.26,867.97 527.20,865.40 531.14,862.74 535.08,859.99 539.03,857.15 542.97,854.21 546.91,851.16 550.85,848.01 554.79,844.76 558.73,841.39 562.67,837.90 566.61,834.29 570.55,830.56 574.49,826.70 578.43,822.71 582.37,818.58 586.31,814.31 590.25,809.89 594.19,805.31 598.13,800.58 602.07,795.69 606.01,790.63 609.95,785.39 613.89,779.97 617.83,774.37 621.77,768.57 625.71,762.57 629.65,756.36 633.59,749.94 637.54,743.30 641.48,736.43 645.42,729.32 649.36,721.97 653.30,714.36 657.24,706.50 661.18,698.36 665.12,689.93 669.06,681.22 673.00,672.21 676.94,662.89 680.88,653.24 684.82,643.26" fill="none" stroke="#1e8a2e" stroke-width="2.0" stroke-linejoin="round" stroke-linecap="butt"/>
<polyline points="97.70,940.52 101.64,940.45 105.58,940.38 109.52,940.31 113.46,940.24 117.40,940.16 121.34,940.08 125.28,940.00 129.22,939.92 133.16,939.83 137.10,939.74 141.04,939.64 144.98,939.55 148.93,939.45 152.87,939.34 156.81,939.24 160.75,939.13 164.69,939.01 168.63,938.89 172.57,938.77 176.51,938.64 180.45,938.51 184.39,938.37 188.33,938.23 192.27,938.09 196.21,937.94 200.15,937.78 204.09,937.62 208.03,937.45 211.97,937.28 215.91,937.10 219.85,936.91 223.79,936.72 227.73,936.52 231.67,936.32 235.61,936.10 239.55,935.88 243.49,935.65 247.44,935.42 251.38,935.17 255.32,934.92 259.26,934.66 263.20,934.39 267.14,934.11 271.08,933.82 275.02,933.52 278.96,933.21 282.90,932.89 286.84,932.56 290.78,932.22 294.72,931.86 298.66,931.49 302.60,931.11 306.54,930.72 310.48,930.31 314.42,929.89 318.36,929.45 322.30,929.00 326.24,928.53 330.18,928.05 334.12,927.55 338.06,927.03 342.00,926.50 345.95,925.94 349.89,925.37 353.83,924.77 357.77,924.16 361.71,923.52 365.65,922.86 369.59,922.18 373.53,921.48 377.47,920.75 381.41,919.99 385.35,919.21 389.29,918.41 393.23,917.57 397.17,916.70 401.11,915.81 405.05,914.88 408.99,913.92 412.93,912.93 416.87,911.90 420.81,910.84 424.75,909.74 428.69,908.60 432.63,907.43 436.57,906.21 440.52,904.95 444.46,903.64 448.40,902.29 452.34,900.90 456.28,899.45 460.22,897.95 464.16,896.41 468.10,894.80 472.04,893.15 475.98,891.43 479.92,889.66 483.86,887.82 487.80,885.92 491.74,883.95 495.68,881.91 499.62,879.81 503.56,877.63 507.50,875.37 511.44,873.04 515.38,870.62 519.32,868.12 523.26,865.54 527.20,862.86 531.14,860.09 535.08,857.22 539.03,854.26 542.97,851.19 546.91,848.01 550.85,844.73 554.79,841.33 558.73,837.81 562.67,834.16 566.61,830.39 570.55,826.50 574.49,822.46 578.43,818.28 582.37,813.96 586.31,809.49 590.25,804.86 594.19,800.07 598.13,795.12 602.07,789.99 606.01,784.68 609.95,779.19 613.89,773.51 617.83,767.63 621.77,761.54 625.71,755.25 629.65,748.73 633.59,741.99 637.54,735.01 641.48,727.79 645.42,720.32 649.36,712.59 653.30,704.59 657.24,696.31 661.18,687.74 665.12,678.87 669.06,669.70 673.00,660.21 676.94,650.38 680.88,640.22 684.82,629.69" fill="none" stroke="#e8963a" stroke-width="2.0" stroke-linejoin="round" stroke-linecap="butt"/>
<rect x="417.40" y="697.40" width="121.70" height="125.80" rx="7" ry="7" fill="#fff" stroke="#8a8a8a" stroke-width="1.3"/>
<rect x="431.90" y="714.40" width="13.00" height="10.00" fill="#00009a" stroke="#00006a" stroke-width="1"/>
<text x="453.50" y="726.05" font-family="'Liberation Serif', serif" font-size="21.8" fill="#222" textLength="71" lengthAdjust="spacingAndGlyphs"><tspan font-style="italic">&#x3D5;</tspan> = 0%</text>
<rect x="431.90" y="741.70" width="13.00" height="10.00" fill="#9a0000" stroke="#6a0000" stroke-width="1"/>
<text x="453.50" y="753.35" font-family="'Liberation Serif', serif" font-size="21.8" fill="#222" textLength="71" lengthAdjust="spacingAndGlyphs"><tspan font-style="italic">&#x3D5;</tspan> = 3%</text>
<rect x="431.90" y="768.90" width="13.00" height="10.00" fill="#009a00" stroke="#006a00" stroke-width="1"/>
<text x="453.50" y="780.55" font-family="'Liberation Serif', serif" font-size="21.8" fill="#222" textLength="71" lengthAdjust="spacingAndGlyphs"><tspan font-style="italic">&#x3D5;</tspan> = 6%</text>
<rect x="431.90" y="796.50" width="13.00" height="10.00" fill="#ff8a10" stroke="#c86a10" stroke-width="1"/>
<text x="453.50" y="808.15" font-family="'Liberation Serif', serif" font-size="21.8" fill="#222" textLength="71" lengthAdjust="spacingAndGlyphs"><tspan font-style="italic">&#x3D5;</tspan> = 9%</text>
<line x1="597.50" y1="853.60" x2="548.50" y2="794.00" stroke="#4e0a10" stroke-width="1.9"/>
<polygon points="538.30,782.10 555.60,794.40 548.50,794.00 544.90,801.00" fill="#4e0a10" stroke="#4e0a10" stroke-width="0.8" stroke-linejoin="round"/>
<text x="106.80" y="639.10" font-family="'Liberation Serif', serif" font-size="25.5" fill="#111" textLength="524.90" lengthAdjust="spacingAndGlyphs">Ha = 1, <tspan font-style="italic">U</tspan><tspan font-style="italic" font-size="16.5" dy="2.3">HS</tspan><tspan dy="-2.3"> =&#x2212;1, L=0.05, We=0.005, Pr=21</tspan></text>
<text x="198.30" y="674.20" font-family="'Liberation Serif', serif" font-size="25.5" fill="#111" textLength="282.10" lengthAdjust="spacingAndGlyphs">K=1, <tspan font-style="italic">S</tspan><tspan font-style="italic" font-size="16.5" dy="2.3">P</tspan><tspan dy="-2.3"> = 0.5, Ec = 0.2</tspan></text>
<line x1="853.20" y1="603.20" x2="853.20" y2="964.70" stroke="#202020" stroke-width="2.4"/>
<line x1="852.00" y1="963.50" x2="1485.00" y2="963.50" stroke="#202020" stroke-width="2.4"/>
<text transform="translate(847.80,952.90) scale(1.08,1)" font-family="'Liberation Sans', sans-serif" font-size="21.0" text-anchor="end" font-style="normal" font-weight="normal" fill="#1e1e1e" stroke="#1e1e1e" stroke-width="0.2" style="font-kerning:none">0.0</text>
<path d="M515,0 L515,1237 L197,1010 L197,1180 L530,1409 L696,1409 L696,0 Z" transform="translate(835.19,906.07) scale(0.01107,-0.01025)" fill="#1e1e1e" stroke="#1e1e1e" stroke-width="0.2" vector-effect="non-scaling-stroke"/>
<text transform="translate(847.80,906.07) scale(1.08,1)" font-family="'Liberation Sans', sans-serif" font-size="21.0" text-anchor="end" font-style="normal" font-weight="normal" fill="#1e1e1e" stroke="#1e1e1e" stroke-width="0.2" style="font-kerning:none">0.&#x2007;</text>
<text transform="translate(847.80,859.24) scale(1.08,1)" font-family="'Liberation Sans', sans-serif" font-size="21.0" text-anchor="end" font-style="normal" font-weight="normal" fill="#1e1e1e" stroke="#1e1e1e" stroke-width="0.2" style="font-kerning:none">0.2</text>
<text transform="translate(847.80,812.41) scale(1.08,1)" font-family="'Liberation Sans', sans-serif" font-size="21.0" text-anchor="end" font-style="normal" font-weight="normal" fill="#1e1e1e" stroke="#1e1e1e" stroke-width="0.2" style="font-kerning:none">0.3</text>
<text transform="translate(847.80,765.58) scale(1.08,1)" font-family="'Liberation Sans', sans-serif" font-size="21.0" text-anchor="end" font-style="normal" font-weight="normal" fill="#1e1e1e" stroke="#1e1e1e" stroke-width="0.2" style="font-kerning:none">0.4</text>
<text transform="translate(847.80,718.75) scale(1.08,1)" font-family="'Liberation Sans', sans-serif" font-size="21.0" text-anchor="end" font-style="normal" font-weight="normal" fill="#1e1e1e" stroke="#1e1e1e" stroke-width="0.2" style="font-kerning:none">0.5</text>
<text transform="translate(847.80,671.92) scale(1.08,1)" font-family="'Liberation Sans', sans-serif" font-size="21.0" text-anchor="end" font-style="normal" font-weight="normal" fill="#1e1e1e" stroke="#1e1e1e" stroke-width="0.2" style="font-kerning:none">0.6</text>
<text transform="translate(847.80,625.09) scale(1.08,1)" font-family="'Liberation Sans', sans-serif" font-size="21.0" text-anchor="end" font-style="normal" font-weight="normal" fill="#1e1e1e" stroke="#1e1e1e" stroke-width="0.2" style="font-kerning:none">0.7</text>
<text transform="translate(865.80,986.70) scale(1.08,1)" font-family="'Liberation Sans', sans-serif" font-size="21.0" text-anchor="middle" font-style="normal" font-weight="normal" fill="#1e1e1e" stroke="#1e1e1e" stroke-width="0.2" style="font-kerning:none">0.0</text>
<text transform="translate(1016.70,986.70) scale(1.08,1)" font-family="'Liberation Sans', sans-serif" font-size="21.0" text-anchor="middle" font-style="normal" font-weight="normal" fill="#1e1e1e" stroke="#1e1e1e" stroke-width="0.2" style="font-kerning:none">0.2</text>
<text transform="translate(1167.60,986.70) scale(1.08,1)" font-family="'Liberation Sans', sans-serif" font-size="21.0" text-anchor="middle" font-style="normal" font-weight="normal" fill="#1e1e1e" stroke="#1e1e1e" stroke-width="0.2" style="font-kerning:none">0.4</text>
<text transform="translate(1318.50,986.70) scale(1.08,1)" font-family="'Liberation Sans', sans-serif" font-size="21.0" text-anchor="middle" font-style="normal" font-weight="normal" fill="#1e1e1e" stroke="#1e1e1e" stroke-width="0.2" style="font-kerning:none">0.6</text>
<text transform="translate(1469.40,986.70) scale(1.08,1)" font-family="'Liberation Sans', sans-serif" font-size="21.0" text-anchor="middle" font-style="normal" font-weight="normal" fill="#1e1e1e" stroke="#1e1e1e" stroke-width="0.2" style="font-kerning:none">0.8</text>
<text x="1168.20" y="1015.50" font-family="'Liberation Serif', serif" font-size="24.5" text-anchor="middle" font-style="italic" font-weight="normal" fill="#111" >y</text>
<text transform="translate(806.0,783.4) rotate(-90)" x="0" y="0" font-family="'Liberation Serif', serif" font-size="24.5" text-anchor="middle" fill="#111">Be</text>
<polyline points="865.30,945.94 869.11,945.84 872.91,945.73 876.72,945.60 880.53,945.46 884.33,945.30 888.14,945.12 891.94,944.92 895.75,944.70 899.56,944.47 903.36,944.21 907.17,943.94 910.98,943.64 914.78,943.33 918.59,943.00 922.39,942.64 926.20,942.27 930.01,941.87 933.81,941.45 937.62,941.01 941.43,940.54 945.23,940.06 949.04,939.55 952.84,939.01 956.65,938.46 960.46,937.87 964.26,937.27 968.07,936.64 971.88,935.98 975.68,935.30 979.49,934.59 983.29,933.86 987.10,933.09 990.91,932.31 994.71,931.49 998.52,930.65 1002.33,929.77 1006.13,928.87 1009.94,927.94 1013.75,926.99 1017.55,926.00 1021.36,924.98 1025.16,923.93 1028.97,922.85 1032.78,921.74 1036.58,920.60 1040.39,919.43 1044.20,918.23 1048.00,916.99 1051.81,915.72 1055.61,914.42 1059.42,913.08 1063.23,911.71 1067.03,910.31 1070.84,908.87 1074.65,907.40 1078.45,905.90 1082.26,904.37 1086.06,902.80 1089.87,901.20 1093.68,899.57 1097.48,897.91 1101.29,896.22 1105.10,894.50 1108.90,892.75 1112.71,890.97 1116.52,889.16 1120.32,887.32 1124.13,885.46 1127.93,883.56 1131.74,881.64 1135.55,879.68 1139.35,877.70 1143.16,875.70 1146.97,873.67 1150.77,871.61 1154.58,869.52 1158.38,867.41 1162.19,865.27 1166.00,863.11 1169.80,860.92 1173.61,858.71 1177.42,856.48 1181.22,854.22 1185.03,851.93 1188.83,849.63 1192.64,847.30 1196.45,844.94 1200.25,842.57 1204.06,840.17 1207.87,837.76 1211.67,835.32 1215.48,832.86 1219.28,830.38 1223.09,827.87 1226.90,825.35 1230.70,822.81 1234.51,820.25 1238.32,817.67 1242.12,815.08 1245.93,812.46 1249.74,809.83 1253.54,807.19 1257.35,804.53 1261.15,801.86 1264.96,799.18 1268.77,796.48 1272.57,793.77 1276.38,791.05 1280.19,788.33 1283.99,785.59 1287.80,782.85 1291.60,780.10 1295.41,777.34 1299.22,774.58 1303.02,771.82 1306.83,769.05 1310.64,766.28 1314.44,763.51 1318.25,760.74 1322.05,757.96 1325.86,755.19 1329.67,752.42 1333.47,749.65 1337.28,746.89 1341.09,744.12 1344.89,741.37 1348.70,738.62 1352.51,735.87 1356.31,733.14 1360.12,730.41 1363.92,727.69 1367.73,724.98 1371.54,722.28 1375.34,719.60 1379.15,716.92 1382.96,714.26 1386.76,711.62 1390.57,708.99 1394.37,706.37 1398.18,703.77 1401.99,701.19 1405.79,698.63 1409.60,696.08 1413.41,693.56 1417.21,691.06 1421.02,688.58 1424.82,686.12 1428.63,683.68 1432.44,681.27 1436.24,678.89 1440.05,676.53 1443.86,674.19 1447.66,671.89 1451.47,669.61 1455.27,667.36 1459.08,665.14 1462.89,662.95 1466.69,660.80 1470.50,658.68" fill="none" stroke="#121280" stroke-width="2.0" stroke-linejoin="round" stroke-linecap="butt"/>
<polyline points="865.30,945.95 869.11,945.82 872.91,945.67 876.72,945.51 880.53,945.33 884.33,945.14 888.14,944.94 891.94,944.72 895.75,944.48 899.56,944.23 903.36,943.96 907.17,943.67 910.98,943.36 914.78,943.03 918.59,942.69 922.39,942.33 926.20,941.94 930.01,941.53 933.81,941.11 937.62,940.66 941.43,940.19 945.23,939.69 949.04,939.18 952.84,938.64 956.65,938.07 960.46,937.48 964.26,936.87 968.07,936.23 971.88,935.56 975.68,934.86 979.49,934.14 983.29,933.39 987.10,932.61 990.91,931.81 994.71,930.97 998.52,930.11 1002.33,929.21 1006.13,928.28 1009.94,927.32 1013.75,926.33 1017.55,925.31 1021.36,924.25 1025.16,923.16 1028.97,922.04 1032.78,920.88 1036.58,919.69 1040.39,918.46 1044.20,917.19 1048.00,915.89 1051.81,914.55 1055.61,913.18 1059.42,911.77 1063.23,910.31 1067.03,908.82 1070.84,907.29 1074.65,905.73 1078.45,904.13 1082.26,902.49 1086.06,900.81 1089.87,899.10 1093.68,897.36 1097.48,895.57 1101.29,893.76 1105.10,891.91 1108.90,890.03 1112.71,888.11 1116.52,886.17 1120.32,884.19 1124.13,882.18 1127.93,880.13 1131.74,878.06 1135.55,875.96 1139.35,873.82 1143.16,871.66 1146.97,869.47 1150.77,867.25 1154.58,865.00 1158.38,862.73 1162.19,860.42 1166.00,858.09 1169.80,855.74 1173.61,853.35 1177.42,850.95 1181.22,848.51 1185.03,846.06 1188.83,843.58 1192.64,841.07 1196.45,838.54 1200.25,835.99 1204.06,833.42 1207.87,830.82 1211.67,828.21 1215.48,825.57 1219.28,822.91 1223.09,820.23 1226.90,817.54 1230.70,814.82 1234.51,812.08 1238.32,809.33 1242.12,806.56 1245.93,803.77 1249.74,800.97 1253.54,798.16 1257.35,795.33 1261.15,792.49 1264.96,789.64 1268.77,786.78 1272.57,783.91 1276.38,781.03 1280.19,778.14 1283.99,775.25 1287.80,772.35 1291.60,769.45 1295.41,766.55 1299.22,763.64 1303.02,760.73 1306.83,757.82 1310.64,754.91 1314.44,752.00 1318.25,749.10 1322.05,746.19 1325.86,743.29 1329.67,740.40 1333.47,737.51 1337.28,734.63 1341.09,731.76 1344.89,728.90 1348.70,726.05 1352.51,723.20 1356.31,720.37 1360.12,717.55 1363.92,714.75 1367.73,711.96 1371.54,709.19 1375.34,706.43 1379.15,703.69 1382.96,700.97 1386.76,698.27 1390.57,695.59 1394.37,692.93 1398.18,690.29 1401.99,687.68 1405.79,685.09 1409.60,682.52 1413.41,679.99 1417.21,677.47 1421.02,674.99 1424.82,672.54 1428.63,670.11 1432.44,667.72 1436.24,665.36 1440.05,663.03 1443.86,660.74 1447.66,658.48 1451.47,656.25 1455.27,654.06 1459.08,651.91 1462.89,649.80 1466.69,647.73 1470.50,645.70" fill="none" stroke="#862020" stroke-width="2.0" stroke-linejoin="round" stroke-linecap="butt"/>
<polyline points="865.30,945.95 869.11,945.81 872.91,945.66 876.72,945.50 880.53,945.32 884.33,945.12 888.14,944.91 891.94,944.69 895.75,944.45 899.56,944.19 903.36,943.92 907.17,943.62 910.98,943.31 914.78,942.98 918.59,942.63 922.39,942.26 926.20,941.87 930.01,941.45 933.81,941.02 937.62,940.56 941.43,940.08 945.23,939.57 949.04,939.04 952.84,938.48 956.65,937.90 960.46,937.29 964.26,936.66 968.07,935.99 971.88,935.30 975.68,934.58 979.49,933.83 983.29,933.05 987.10,932.24 990.91,931.40 994.71,930.53 998.52,929.62 1002.33,928.69 1006.13,927.72 1009.94,926.71 1013.75,925.67 1017.55,924.59 1021.36,923.48 1025.16,922.33 1028.97,921.15 1032.78,919.93 1036.58,918.67 1040.39,917.37 1044.20,916.03 1048.00,914.65 1051.81,913.23 1055.61,911.77 1059.42,910.26 1063.23,908.72 1067.03,907.13 1070.84,905.50 1074.65,903.83 1078.45,902.12 1082.26,900.37 1086.06,898.58 1089.87,896.75 1093.68,894.88 1097.48,892.98 1101.29,891.04 1105.10,889.06 1108.90,887.05 1112.71,885.00 1116.52,882.91 1120.32,880.79 1124.13,878.64 1127.93,876.45 1131.74,874.23 1135.55,871.98 1139.35,869.70 1143.16,867.38 1146.97,865.04 1150.77,862.66 1154.58,860.25 1158.38,857.82 1162.19,855.36 1166.00,852.87 1169.80,850.35 1173.61,847.80 1177.42,845.23 1181.22,842.64 1185.03,840.01 1188.83,837.37 1192.64,834.70 1196.45,832.00 1200.25,829.28 1204.06,826.54 1207.87,823.78 1211.67,821.00 1215.48,818.19 1219.28,815.37 1223.09,812.52 1226.90,809.66 1230.70,806.77 1234.51,803.87 1238.32,800.96 1242.12,798.02 1245.93,795.07 1249.74,792.11 1253.54,789.14 1257.35,786.15 1261.15,783.15 1264.96,780.15 1268.77,777.13 1272.57,774.11 1276.38,771.08 1280.19,768.05 1283.99,765.01 1287.80,761.97 1291.60,758.92 1295.41,755.88 1299.22,752.84 1303.02,749.79 1306.83,746.75 1310.64,743.72 1314.44,740.68 1318.25,737.66 1322.05,734.64 1325.86,731.63 1329.67,728.62 1333.47,725.63 1337.28,722.65 1341.09,719.68 1344.89,716.72 1348.70,713.78 1352.51,710.85 1356.31,707.94 1360.12,705.04 1363.92,702.17 1367.73,699.31 1371.54,696.47 1375.34,693.66 1379.15,690.87 1382.96,688.10 1386.76,685.36 1390.57,682.64 1394.37,679.95 1398.18,677.29 1401.99,674.66 1405.79,672.06 1409.60,669.49 1413.41,666.95 1417.21,664.45 1421.02,661.98 1424.82,659.54 1428.63,657.15 1432.44,654.79 1436.24,652.47 1440.05,650.19 1443.86,647.95 1447.66,645.75 1451.47,643.60 1455.27,641.49 1459.08,639.42 1462.89,637.40 1466.69,635.43 1470.50,633.51" fill="none" stroke="#1e8a2e" stroke-width="2.0" stroke-linejoin="round" stroke-linecap="butt"/>
<polyline points="865.30,945.91 869.11,945.84 872.91,945.75 876.72,945.64 880.53,945.52 884.33,945.37 888.14,945.21 891.94,945.02 895.75,944.81 899.56,944.59 903.36,944.34 907.17,944.06 910.98,943.77 914.78,943.45 918.59,943.10 922.39,942.73 926.20,942.34 930.01,941.92 933.81,941.48 937.62,941.00 941.43,940.51 945.23,939.98 949.04,939.42 952.84,938.84 956.65,938.22 960.46,937.58 964.26,936.91 968.07,936.20 971.88,935.46 975.68,934.69 979.49,933.89 983.29,933.06 987.10,932.19 990.91,931.29 994.71,930.35 998.52,929.38 1002.33,928.37 1006.13,927.32 1009.94,926.24 1013.75,925.12 1017.55,923.97 1021.36,922.77 1025.16,921.54 1028.97,920.26 1032.78,918.95 1036.58,917.59 1040.39,916.20 1044.20,914.76 1048.00,913.28 1051.81,911.76 1055.61,910.19 1059.42,908.59 1063.23,906.93 1067.03,905.23 1070.84,903.49 1074.65,901.71 1078.45,899.89 1082.26,898.02 1086.06,896.11 1089.87,894.16 1093.68,892.17 1097.48,890.15 1101.29,888.08 1105.10,885.97 1108.90,883.83 1112.71,881.65 1116.52,879.44 1120.32,877.19 1124.13,874.90 1127.93,872.58 1131.74,870.22 1135.55,867.83 1139.35,865.41 1143.16,862.96 1146.97,860.47 1150.77,857.95 1154.58,855.40 1158.38,852.82 1162.19,850.22 1166.00,847.58 1169.80,844.91 1173.61,842.22 1177.42,839.50 1181.22,836.75 1185.03,833.98 1188.83,831.18 1192.64,828.35 1196.45,825.51 1200.25,822.63 1204.06,819.74 1207.87,816.82 1211.67,813.88 1215.48,810.92 1219.28,807.93 1223.09,804.93 1226.90,801.91 1230.70,798.87 1234.51,795.80 1238.32,792.73 1242.12,789.63 1245.93,786.52 1249.74,783.40 1253.54,780.27 1257.35,777.12 1261.15,773.96 1264.96,770.80 1268.77,767.63 1272.57,764.45 1276.38,761.27 1280.19,758.08 1283.99,754.90 1287.80,751.71 1291.60,748.52 1295.41,745.33 1299.22,742.15 1303.02,738.97 1306.83,735.80 1310.64,732.63 1314.44,729.47 1318.25,726.32 1322.05,723.18 1325.86,720.05 1329.67,716.93 1333.47,713.83 1337.28,710.74 1341.09,707.68 1344.89,704.62 1348.70,701.59 1352.51,698.58 1356.31,695.59 1360.12,692.62 1363.92,689.68 1367.73,686.76 1371.54,683.87 1375.34,681.01 1379.15,678.17 1382.96,675.37 1386.76,672.60 1390.57,669.86 1394.37,667.16 1398.18,664.49 1401.99,661.86 1405.79,659.26 1409.60,656.71 1413.41,654.19 1417.21,651.72 1421.02,649.29 1424.82,646.91 1428.63,644.57 1432.44,642.28 1436.24,640.04 1440.05,637.84 1443.86,635.70 1447.66,633.61 1451.47,631.57 1455.27,629.58 1459.08,627.65 1462.89,625.78 1466.69,623.97 1470.50,622.21" fill="none" stroke="#e8963a" stroke-width="2.0" stroke-linejoin="round" stroke-linecap="butt"/>
<rect x="1046.30" y="731.60" width="111.40" height="116.90" rx="7" ry="7" fill="#fff" stroke="#8a8a8a" stroke-width="1.3"/>
<rect x="1059.40" y="747.40" width="11.60" height="9.20" fill="#00009a" stroke="#00006a" stroke-width="1"/>
<text x="1078.50" y="758.10" font-family="'Liberation Serif', serif" font-size="20" fill="#222" textLength="65" lengthAdjust="spacingAndGlyphs"><tspan font-style="italic">&#x3D5;</tspan> = 0%</text>
<rect x="1059.40" y="772.70" width="11.60" height="9.20" fill="#9a0000" stroke="#6a0000" stroke-width="1"/>
<text x="1078.50" y="783.40" font-family="'Liberation Serif', serif" font-size="20" fill="#222" textLength="65" lengthAdjust="spacingAndGlyphs"><tspan font-style="italic">&#x3D5;</tspan> = 3%</text>
<rect x="1059.40" y="798.20" width="11.60" height="9.20" fill="#009a00" stroke="#006a00" stroke-width="1"/>
<text x="1078.50" y="808.90" font-family="'Liberation Serif', serif" font-size="20" fill="#222" textLength="65" lengthAdjust="spacingAndGlyphs"><tspan font-style="italic">&#x3D5;</tspan> = 6%</text>
<rect x="1059.40" y="823.00" width="11.60" height="9.20" fill="#ff8a10" stroke="#c86a10" stroke-width="1"/>
<text x="1078.50" y="833.70" font-family="'Liberation Serif', serif" font-size="20" fill="#222" textLength="65" lengthAdjust="spacingAndGlyphs"><tspan font-style="italic">&#x3D5;</tspan> = 9%</text>
<line x1="1249.00" y1="867.80" x2="1164.50" y2="815.50" stroke="#4e0a10" stroke-width="1.9"/>
<polygon points="1149.20,806.70 1171.60,812.90 1164.50,815.50 1164.70,822.10" fill="#4e0a10" stroke="#4e0a10" stroke-width="0.8" stroke-linejoin="round"/>
<text x="893.90" y="633.40" font-family="'Liberation Serif', serif" font-size="24.5" fill="#111" textLength="483.80" lengthAdjust="spacingAndGlyphs">Ha = 1, <tspan font-style="italic">U</tspan><tspan font-style="italic" font-size="16" dy="2.2">HS</tspan><tspan dy="-2.2"> =&#x2212;1, L=0.05, We=0.005, Pr=21</tspan></text>
<text x="975.40" y="669.20" font-family="'Liberation Serif', serif" font-size="24.5" fill="#111" textLength="258.40" lengthAdjust="spacingAndGlyphs">K=1, <tspan font-style="italic">S</tspan><tspan font-style="italic" font-size="16" dy="2.2">P</tspan><tspan dy="-2.2"> = 0.5, Ec = 0.2</tspan></text>
</svg>
</body></html>
